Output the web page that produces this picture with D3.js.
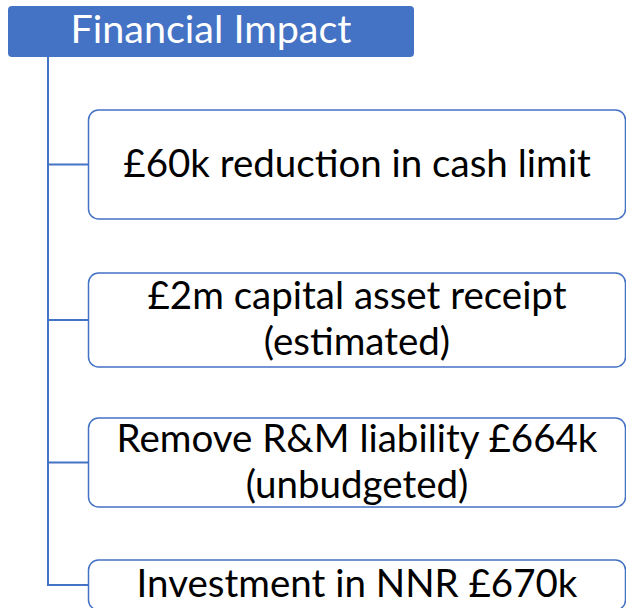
<!DOCTYPE html>
<html>
<head>
<meta charset="utf-8">
<script src="https://cdn.jsdelivr.net/npm/d3@7"></script>
<style>
    body { margin: 0; background: #fff; }
</style>
</head>
<body>
<div id="vis"></div>
<script>
// diagram content
var rootLabel = "Financial Impact";
var itemLines = [
    ["£60k reduction in cash limit"],
    ["£2m capital asset receipt", "(estimated)"],
    ["Remove R&M liability £664k", "(unbudgeted)"],
    ["Investment in NNR £670k"]
];

// layout (pixel extents of each child box, top / bottom)
var boxTop = [110, 273, 418, 560];
var boxBottom = [219, 367, 507, 610];

var width = 626;
var height = 608;
var blue = "#4472C4";
var font = "Lato, 'Open Sans', sans-serif";
var lineHeight = 46;

var svg = d3.select("#vis")
    .append("svg")
    .attr("width", width)
    .attr("height", height);

var root = { x: 8, y: 6, w: 406, h: 51 };
var trunkX = 48;
var boxX = 88.5;
var boxW = 537;

var items = itemLines.map(function (lines, i) {
    return { lines: lines, top: boxTop[i], bottom: boxBottom[i], mid: (boxTop[i] + boxBottom[i]) / 2 };
});

// trunk line
svg.append("line")
    .attr("x1", trunkX)
    .attr("x2", trunkX)
    .attr("y1", root.y + root.h)
    .attr("y2", d3.max(items, function (d) { return d.mid; }))
    .attr("stroke", blue)
    .attr("stroke-width", 2);

// branches
svg.selectAll(".branch")
    .data(items)
    .enter()
    .append("line")
    .attr("class", "branch")
    .attr("x1", trunkX - 1)
    .attr("x2", boxX)
    .attr("y1", function (d) { return d.mid; })
    .attr("y2", function (d) { return d.mid; })
    .attr("stroke", blue)
    .attr("stroke-width", 2);

// root box
svg.append("rect")
    .attr("x", root.x)
    .attr("y", root.y)
    .attr("width", root.w)
    .attr("height", root.h)
    .attr("rx", 4)
    .attr("fill", blue);

svg.append("text")
    .attr("x", root.x + root.w / 2)
    .attr("y", 43)
    .attr("text-anchor", "middle")
    .attr("font-family", font)
    .attr("font-size", 39.5)
    .attr("fill", "#fff")
    .text(rootLabel);

// child boxes
var boxes = svg.selectAll(".item")
    .data(items)
    .enter()
    .append("g")
    .attr("class", "item");

boxes.append("rect")
    .attr("x", boxX)
    .attr("y", function (d) { return d.top; })
    .attr("width", boxW)
    .attr("height", function (d) { return d.bottom - d.top; })
    .attr("rx", 10)
    .attr("fill", "#fff")
    .attr("stroke", blue)
    .attr("stroke-width", 1.5);

boxes.each(function (d) {
    var g = d3.select(this);
    var n = d.lines.length;
    g.selectAll("text")
        .data(d.lines)
        .enter()
        .append("text")
        .attr("x", boxX + boxW / 2)
        .attr("y", function (l, j) { return d.mid + 12 + (j - (n - 1) / 2) * lineHeight; })
        .attr("text-anchor", "middle")
        .attr("font-family", font)
        .attr("font-size", 38.5)
        .attr("fill", "#000")
        .text(function (l) { return l; });
});
</script>
</body>
</html>
